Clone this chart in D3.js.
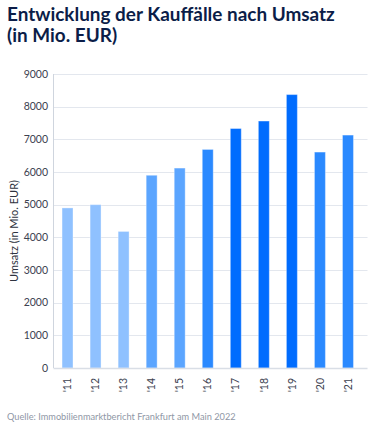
<!DOCTYPE html>
<html>
<head>
<meta charset="utf-8">
<script src="https://cdn.jsdelivr.net/npm/d3@7"></script>
<style>
    body { margin: 0; background: #fff; }
    svg { display: block; font-family: Lato, "Noto Sans", sans-serif; }
</style>
</head>
<body>
<div id="chart"></div>
<script>
// chart values
const years = ["'11", "'12", "'13", "'14", "'15", "'16", "'17", "'18", "'19", "'20", "'21"];
const umsatz = [4900, 5000, 4180, 5900, 6120, 6690, 7330, 7560, 8370, 6610, 7130];
const shade = [0, 0, 0, 1, 1, 2, 3, 3, 3, 2, 2];
const yTicks = [0, 1000, 2000, 3000, 4000, 5000, 6000, 7000, 8000, 9000];
const titleLines = ["Entwicklung der Kauffälle nach Umsatz", "(in Mio. EUR)"];
const yTitle = "Umsatz (in Mio. EUR)";
const source = "Quelle: Immobilienmarktbericht Frankfurt am Main 2022";

const width = 375, height = 429;
const palette = ["#8fc1ff", "#5ba5ff", "#2a89ff", "#006cfe"];

const svg = d3.select("#chart").append("svg")
    .attr("width", width)
    .attr("height", height);

// fit a text element to a target width by scaling its font size
function fitWidth(sel, target) {
    const w = sel.node().getComputedTextLength();
    const fs = parseFloat(sel.attr("font-size"));
    sel.attr("font-size", fs * target / w);
    return fs * target / w;
}

// title
const title = svg.append("g").selectAll("text")
    .data(titleLines)
    .join("text")
        .attr("x", 7)
        .attr("y", (d, i) => 21 + i * 21)
        .attr("fill", "#0b1d48")
        .attr("font-size", 18)
        .attr("font-weight", 700)
        .text(d => d);
const tfs = fitWidth(d3.select(title.nodes()[0]), 328);
title.attr("font-size", tfs);

const x = d3.scaleBand()
    .domain(years)
    .range([53.5, 362])
    .paddingInner(0.61)
    .paddingOuter(0.305);

const y = d3.scaleLinear()
    .domain([0, 9000])
    .range([368, 74]);

// grid
svg.append("g").selectAll("line")
    .data(yTicks.slice(1))
    .join("line")
        .attr("x1", 53.5)
        .attr("x2", 367.5)
        .attr("y1", d => Math.round(y(d)) + 0.5)
        .attr("y2", d => Math.round(y(d)) + 0.5)
        .attr("stroke", "#e3e7ee")
        .attr("stroke-width", 1);

// bars
svg.append("g").selectAll("rect")
    .data(umsatz)
    .join("rect")
        .attr("x", (d, i) => x(years[i]))
        .attr("y", d => y(d))
        .attr("width", x.bandwidth())
        .attr("height", d => y(0) - y(d))
        .attr("fill", (d, i) => palette[shade[i]])
        .attr("stroke", "rgba(255,255,255,0.35)")
        .attr("stroke-width", 1);

// axes lines
svg.append("line")
    .attr("x1", 53.5).attr("x2", 53.5)
    .attr("y1", 74).attr("y2", 368)
    .attr("stroke", "#cfd5de");
svg.append("line")
    .attr("x1", 53.5).attr("x2", 367.5)
    .attr("y1", 368.5).attr("y2", 368.5)
    .attr("stroke", "#d9dee6")
    .attr("stroke-width", 1.5);

// y tick labels
svg.append("g").selectAll("text")
    .data(yTicks)
    .join("text")
        .attr("x", 48)
        .attr("y", d => y(d))
        .attr("dy", "0.35em")
        .attr("text-anchor", "end")
        .attr("fill", "#3c4150")
        .attr("font-size", 10.5)
        .text(d => d);

// x tick labels
svg.append("g").selectAll("text")
    .data(years)
    .join("text")
        .attr("transform", d => `translate(${x(d) + x.bandwidth() / 2},378) rotate(-90)`)
        .attr("dy", "0.35em")
        .attr("text-anchor", "end")
        .attr("fill", "#3c4150")
        .attr("font-size", 10.5)
        .text(d => d);

// y title
svg.append("text")
    .attr("transform", "translate(14,231) rotate(-90)")
    .attr("dy", "0.35em")
    .attr("text-anchor", "middle")
    .attr("fill", "#2e3340")
    .attr("font-size", 11)
    .text(yTitle);

// source
const src = svg.append("text")
    .attr("x", 7)
    .attr("y", 420)
    .attr("fill", "#8f97a6")
    .attr("font-size", 11)
    .text(source);
fitWidth(src, 229);
</script>
</body>
</html>
